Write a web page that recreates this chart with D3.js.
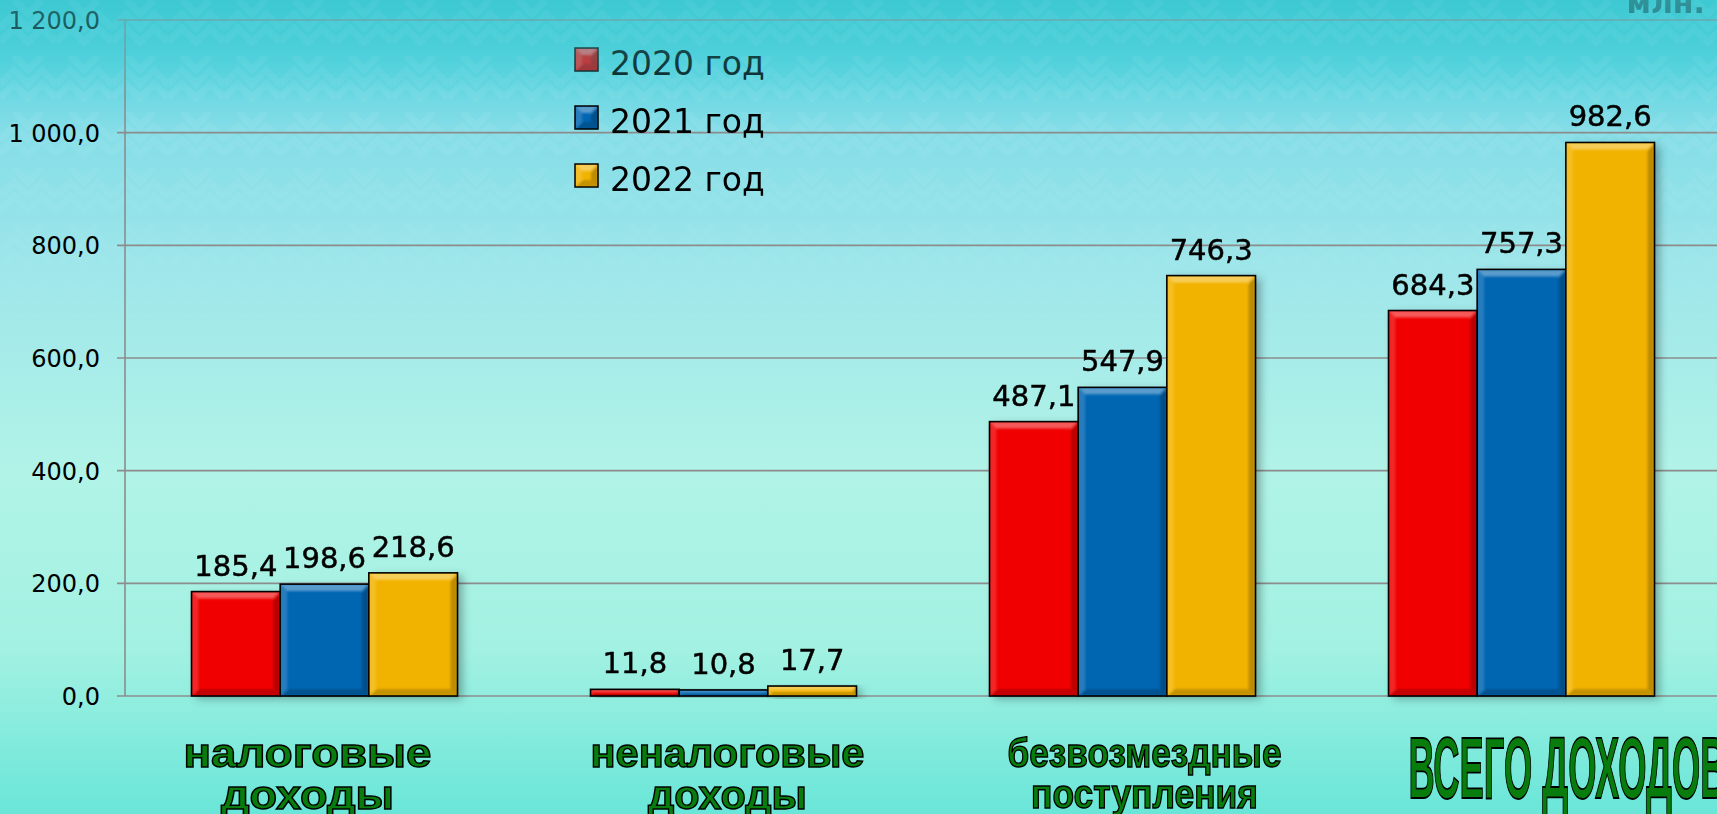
<!DOCTYPE html>
<html>
<head>
<meta charset="utf-8">
<script src="https://cdn.jsdelivr.net/npm/d3@7"></script>
<style>
  html, body { margin: 0; padding: 0; overflow: hidden; }
  body { width: 1717px; height: 814px; }
  svg { display: block; }
</style>
</head>
<body>
<div id="chart"></div>
<script>
// данные
const categories = [
  ['налоговые', 'доходы'],
  ['неналоговые', 'доходы'],
  ['безвозмездные', 'поступления'],
  ['ВСЕГО ДОХОДОВ']
];
const years = ['2020 год', '2021 год', '2022 год'];
const values2020 = [185.4, 11.8, 487.1, 684.3];
const values2021 = [198.6, 10.8, 547.9, 757.3];
const values2022 = [218.6, 17.7, 746.3, 982.6];
const yTicks = [0, 200, 400, 600, 800, 1000, 1200];
const unitLabel = 'млн.';

const series = [values2020, values2021, values2022];
const colors = ['#f00000', '#0166b2', '#f2b300'];

const W = 1717, H = 814;
const plot = { left: 125, right: 1721, top: 20, bottom: 696 };

const ru = d3.formatLocale({ decimal: ',', thousands: ' ', grouping: [3], currency: ['', ''] });
const fmt = ru.format(',.1f');

const svg = d3.select('#chart').append('svg')
  .attr('width', W).attr('height', H)
  .attr('xmlns', 'http://www.w3.org/2000/svg');

const defs = svg.append('defs');

// фон
const bg = defs.append('linearGradient').attr('id', 'bg')
  .attr('x1', 0).attr('y1', 0).attr('x2', 0).attr('y2', 1);
[[0, '#3dc8d2'], [0.07, '#58d4df'], [0.16, '#84dde7'], [0.33, '#9ee6ea'],
 [0.58, '#b1f3e7'], [0.8, '#a2f1e2'], [1, '#69e6d8']].forEach(([o, c]) => {
  bg.append('stop').attr('offset', o).attr('stop-color', c);
});

// узор сверху
const pat = defs.append('pattern').attr('id', 'zig')
  .attr('width', 56).attr('height', 56).attr('patternUnits', 'userSpaceOnUse');
pat.append('path')
  .attr('d', 'M0 28 L14 14 L28 28 L42 14 L56 28 M0 42 L14 28 L28 42 L42 28 L56 42 M14 0 L28 14 L42 0')
  .attr('fill', 'none').attr('stroke', '#ffffff').attr('stroke-width', 7).attr('opacity', 0.5);
const fade = defs.append('linearGradient').attr('id', 'fade')
  .attr('x1', 0).attr('y1', 0).attr('x2', 0).attr('y2', 1);
fade.append('stop').attr('offset', 0).attr('stop-color', '#fff').attr('stop-opacity', 1);
fade.append('stop').attr('offset', 1).attr('stop-color', '#fff').attr('stop-opacity', 0);
defs.append('mask').attr('id', 'fadeMask')
  .append('rect').attr('width', W).attr('height', 360).attr('fill', 'url(#fade)');

const tint = defs.append('linearGradient').attr('id', 'tint')
  .attr('x1', 0).attr('y1', 0).attr('x2', 0).attr('y2', 1);
tint.append('stop').attr('offset', 0).attr('stop-color', '#3fcad3').attr('stop-opacity', 0.55);
tint.append('stop').attr('offset', 0.75).attr('stop-color', '#3fcad3').attr('stop-opacity', 0.25);
tint.append('stop').attr('offset', 1).attr('stop-color', '#3fcad3').attr('stop-opacity', 0);

const shadow = defs.append('filter').attr('id', 'shadow')
  .attr('x', '-20%').attr('y', '-20%').attr('width', '150%').attr('height', '150%');
shadow.append('feDropShadow').attr('dx', 5).attr('dy', 3).attr('stdDeviation', 4)
  .attr('flood-color', '#000').attr('flood-opacity', 0.3);
const soft = defs.append('filter').attr('id', 'soft');
soft.append('feGaussianBlur').attr('stdDeviation', 1.2);

svg.append('rect').attr('width', W).attr('height', H).attr('fill', 'url(#bg)');
svg.append('rect').attr('width', W).attr('height', 360)
  .attr('fill', 'url(#zig)').attr('opacity', 0.18).attr('mask', 'url(#fadeMask)');

// шкалы
const x0 = d3.scaleBand().domain(d3.range(categories.length))
  .range([plot.left, plot.right]).paddingInner(1 / 3).paddingOuter(1 / 6);
const x1 = d3.scaleBand().domain(d3.range(series.length)).range([0, x0.bandwidth()]);
const y = d3.scaleLinear().domain([0, 1200]).range([plot.bottom, plot.top]);

// сетка и ось
const grid = svg.append('g');
grid.selectAll('line').data(yTicks).join('line')
  .attr('x1', plot.left - 8).attr('x2', W)
  .attr('y1', d => y(d)).attr('y2', d => y(d))
  .attr('stroke', '#8c8c8c').attr('stroke-width', 1.6);
svg.append('line')
  .attr('x1', plot.left).attr('x2', plot.left)
  .attr('y1', y(1200)).attr('y2', y(0))
  .attr('stroke', '#8c8c8c').attr('stroke-width', 1.6);

const yAxis = d3.axisLeft(y).tickValues(yTicks).tickFormat(fmt).tickSize(0).tickPadding(0);
const ag = svg.append('g').attr('transform', `translate(${plot.left - 25},0)`).call(yAxis);
ag.select('.domain').remove();
ag.selectAll('text')
  .attr('font-family', 'DejaVu Sans').attr('font-size', 24)
  .attr('fill', '#000').attr('dy', '0.36em');

// столбцы
const bars = [];
categories.forEach((c, i) => {
  series.forEach((s, j) => {
    bars.push({ i, j, v: s[i] });
  });
});

const barLayer = svg.append('g');
const barG = barLayer.selectAll('g.bar').data(bars).join('g').attr('class', 'bar');

barG.append('rect')
  .attr('x', d => x0(d.i) + x1(d.j))
  .attr('y', d => y(d.v))
  .attr('width', x1.bandwidth())
  .attr('height', d => y(0) - y(d.v))
  .attr('fill', d => colors[d.j])
  .attr('filter', 'url(#shadow)');

function bevel(sel, getBox) {
  const g = sel.append('g').attr('filter', 'url(#soft)');
  g.each(function (d) {
    const { x, y: t, w, h } = getBox(d);
    const b = Math.min(7, h / 2.5);
    const gg = d3.select(this);
    const faces = [
      [[x, t], [x + w, t], [x + w - b, t + b], [x + b, t + b], '#fff', 0.35],
      [[x, t], [x + b, t + b], [x + b, t + h - b], [x, t + h], '#fff', 0.15],
      [[x + w, t], [x + w, t + h], [x + w - b, t + h - b], [x + w - b, t + b], '#000', 0.22],
      [[x, t + h], [x + b, t + h - b], [x + w - b, t + h - b], [x + w, t + h], '#000', 0.18]
    ];
    faces.forEach(f => {
      gg.append('polygon')
        .attr('points', f.slice(0, 4).map(p => p.join(',')).join(' '))
        .attr('fill', f[4]).attr('opacity', f[5]);
    });
  });
}
bevel(barG, d => ({
  x: x0(d.i) + x1(d.j), y: y(d.v), w: x1.bandwidth(), h: y(0) - y(d.v)
}));

barG.append('rect')
  .attr('x', d => x0(d.i) + x1(d.j))
  .attr('y', d => y(d.v))
  .attr('width', x1.bandwidth())
  .attr('height', d => y(0) - y(d.v))
  .attr('fill', 'none').attr('stroke', '#000').attr('stroke-width', 1.6);

// подписи значений
svg.append('g').selectAll('text').data(bars).join('text')
  .attr('x', d => x0(d.i) + x1(d.j) + x1.bandwidth() / 2)
  .attr('y', d => y(d.v) - 16)
  .attr('text-anchor', 'middle')
  .attr('font-family', 'DejaVu Sans').attr('font-size', 29)
  .attr('fill', '#000').attr('stroke', '#000').attr('stroke-width', 0.5)
  .text(d => fmt(d.v));

// подписи категорий
const catStyle = [
  { dx: -17, anchor: 'middle', size: 41, lines: [{ len: 248, y: 767 }, { len: 173, y: 809 }], sw: 1.4 },
  { dx: 4, anchor: 'middle', size: 41, lines: [{ len: 274, y: 767 }, { len: 159, y: 809 }], sw: 1.4 },
  { dx: 22, anchor: 'middle', size: 41, lines: [{ len: 274, y: 767 }, { len: 227, y: 808 }], sw: 1.4 },
  { dx: 20 - x0.bandwidth() / 2, anchor: 'start', size: 88, lines: [{ len: 318, y: 798 }], sw: 1.8 }
];
const catG = svg.append('g');
categories.forEach((lines, i) => {
  const st = catStyle[i];
  lines.forEach((txt, k) => {
    catG.append('text')
      .attr('x', x0(i) + x0.bandwidth() / 2 + st.dx)
      .attr('y', st.lines[k].y)
      .attr('text-anchor', st.anchor)
      .attr('font-family', 'Liberation Sans, Arial, sans-serif')
      .attr('font-weight', 'bold')
      .attr('font-size', st.size)
      .attr('textLength', st.lines[k].len)
      .attr('lengthAdjust', 'spacingAndGlyphs')
      .attr('fill', '#087c0c')
      .attr('stroke', '#000').attr('stroke-width', st.sw)
      .text(txt);
  });
});

// легенда
const legend = svg.append('g').attr('transform', 'translate(575,48)');
const li = legend.selectAll('g').data(years).join('g')
  .attr('transform', (d, i) => `translate(0,${i * 58})`);
li.append('rect').attr('width', 23).attr('height', 23)
  .attr('fill', (d, i) => colors[i]);
bevel(li, () => ({ x: 0, y: 0, w: 23, h: 23 }));
li.append('rect').attr('width', 23).attr('height', 23)
  .attr('fill', 'none').attr('stroke', '#000').attr('stroke-width', 1.5);
li.append('text')
  .attr('x', 35).attr('y', 27)
  .attr('font-family', 'DejaVu Sans').attr('font-size', 33)
  .attr('fill', '#000')
  .text(d => d);

// единицы
svg.append('text')
  .attr('x', 1705).attr('y', 13)
  .attr('text-anchor', 'end')
  .attr('font-family', 'DejaVu Sans').attr('font-weight', 'bold').attr('font-size', 30)
  .attr('fill', '#1f4f55')
  .text(unitLabel);

// оттенок сверху
svg.append('rect').attr('width', W).attr('height', 100)
  .attr('fill', 'url(#tint)').attr('pointer-events', 'none');
</script>
</body>
</html>
